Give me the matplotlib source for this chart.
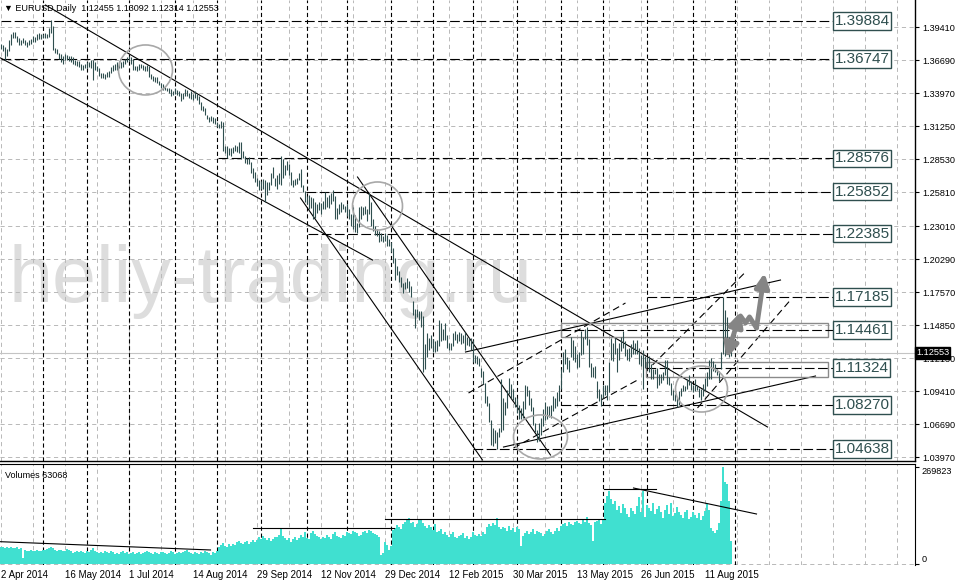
import matplotlib
matplotlib.use("Agg")
import matplotlib.pyplot as plt
from matplotlib.patches import Ellipse, Rectangle
from matplotlib.transforms import blended_transform_factory
import pandas as pd

plt.rcParams["font.family"] = ["Liberation Sans", "DejaVu Sans"]
plt.rcParams["lines.scale_dashes"] = False

# Daily bars EURUSD, one row = one week
highs = [
    1.3800, 1.3790, 1.3775, 1.3760, 1.3830,
    1.3880, 1.3900, 1.3900, 1.3870, 1.3850,
    1.3830, 1.3850, 1.3830, 1.3820, 1.3830,
    1.3840, 1.3870, 1.3860, 1.3880, 1.3890,
    1.3880, 1.3880, 1.3890, 1.3880, 1.3930,
    1.3995, 1.3950, 1.3770, 1.3760, 1.3730,
    1.3720, 1.3700, 1.3720, 1.3710, 1.3700,
    1.3700, 1.3690, 1.3670, 1.3660, 1.3660,
    1.3640, 1.3630, 1.3640, 1.3650, 1.3650,
    1.3670, 1.3670, 1.3650, 1.3620, 1.3600,
    1.3560, 1.3560, 1.3550, 1.3570, 1.3580,
    1.3610, 1.3630, 1.3640, 1.3650, 1.3660,
    1.3650, 1.3660, 1.3680, 1.3690, 1.3700,
    1.3690, 1.3680, 1.3620, 1.3620, 1.3640,
    1.3640, 1.3630, 1.3620, 1.3630, 1.3620,
    1.3550, 1.3540, 1.3530, 1.3530, 1.3500,
    1.3480, 1.3470, 1.3450, 1.3440, 1.3440,
    1.3430, 1.3410, 1.3440, 1.3420, 1.3410,
    1.3400, 1.3400, 1.3430, 1.3420, 1.3400,
    1.3410, 1.3390, 1.3410, 1.3390, 1.3370,
    1.3320, 1.3290, 1.3270, 1.3220, 1.3200,
    1.3210, 1.3200, 1.3190, 1.3160, 1.3140,
    1.3170, 1.3160, 1.2960, 1.2960, 1.2940,
    1.2940, 1.2950, 1.2970, 1.2960, 1.2990,
    1.2990, 1.2920, 1.2880, 1.2860, 1.2870,
    1.2830, 1.2780, 1.2750, 1.2700, 1.2680,
    1.2670, 1.2690, 1.2680, 1.2660, 1.2660,
    1.2740, 1.2790, 1.2700, 1.2720, 1.2740,
    1.2880, 1.2850, 1.2800, 1.2840, 1.2810,
    1.2750, 1.2680, 1.2690, 1.2700, 1.2740,
    1.2770, 1.2640, 1.2590, 1.2550, 1.2560,
    1.2540, 1.2530, 1.2500, 1.2480, 1.2500,
    1.2490, 1.2510, 1.2580, 1.2540, 1.2560,
    1.2570, 1.2600, 1.2550, 1.2450, 1.2480,
    1.2500, 1.2480, 1.2470, 1.2480, 1.2440,
    1.2400, 1.2460, 1.2390, 1.2330, 1.2460,
    1.2470, 1.2460, 1.2470, 1.2440, 1.2570,
    1.2500, 1.2360, 1.2300, 1.2280, 1.2260,
    1.2240, 1.2220, 1.2240, 1.2230, 1.2190,
    1.2170, 1.2120, 1.2040, 1.1970, 1.1930,
    1.1880, 1.1830, 1.1840, 1.1870, 1.1850,
    1.1810, 1.1680, 1.1620, 1.1620, 1.1600,
    1.1600, 1.1560, 1.1330, 1.1420, 1.1380,
    1.1400, 1.1370, 1.1350, 1.1360, 1.1530,
    1.1500, 1.1450, 1.1500, 1.1400, 1.1340,
    1.1340, 1.1420, 1.1440, 1.1410, 1.1430,
    1.1420, 1.1400, 1.1430, 1.1390, 1.1380,
    1.1380, 1.1360, 1.1240, 1.1230, 1.1210,
    1.1130, 1.1110, 1.1010, 1.0900, 1.0840,
    1.0700, 1.0640, 1.0620, 1.0600, 1.0640,
    1.1040, 1.0880, 1.0850, 1.0950, 1.1050,
    1.1000, 1.0960, 1.0890, 1.0880, 1.0830,
    1.0800, 1.0860, 1.0990, 1.0980, 1.0950,
    1.0880, 1.0810, 1.0680, 1.0620, 1.0680,
    1.0720, 1.0790, 1.0850, 1.0820, 1.0820,
    1.0830, 1.0900, 1.0880, 1.0930, 1.0990,
    1.1120, 1.1260, 1.1290, 1.1220, 1.1200,
    1.1390, 1.1360, 1.1310, 1.1250, 1.1260,
    1.1440, 1.1390, 1.1450, 1.1467, 1.1370,
    1.1170, 1.1140, 1.1150, 1.1020, 1.0960,
    1.0920, 1.0990, 1.0990, 1.0990, 1.1180,
    1.1380, 1.1340, 1.1380, 1.1300, 1.1340,
    1.1390, 1.1440, 1.1350, 1.1290, 1.1300,
    1.1330, 1.1360, 1.1340, 1.1360, 1.1300,
    1.1240, 1.1280, 1.1230, 1.1220, 1.1230,
    1.1160, 1.1120, 1.1120, 1.1130, 1.1080,
    1.1080, 1.1100, 1.1200, 1.1200, 1.1060,
    1.1010, 1.0950, 1.0920, 1.0890, 1.0940,
    1.0970, 1.0990, 1.0980, 1.1040, 1.1070,
    1.1020, 1.0990, 1.1040, 1.0990, 1.0970,
    1.0960, 1.1000, 1.1050, 1.1100, 1.1200,
    1.1210, 1.1190, 1.1160, 1.1120, 1.1110,
    1.1260, 1.1714, 1.1610, 1.1550, 1.1390, 1.1309,
]
lows = [
    1.3760, 1.3740, 1.3670, 1.3700, 1.3740,
    1.3790, 1.3850, 1.3850, 1.3815, 1.3790,
    1.3790, 1.3810, 1.3790, 1.3780, 1.3790,
    1.3800, 1.3820, 1.3820, 1.3830, 1.3840,
    1.3840, 1.3850, 1.3850, 1.3850, 1.3860,
    1.3890, 1.3750, 1.3730, 1.3720, 1.3680,
    1.3650, 1.3640, 1.3670, 1.3670, 1.3660,
    1.3650, 1.3640, 1.3630, 1.3620, 1.3610,
    1.3590, 1.3590, 1.3600, 1.3600, 1.3610,
    1.3600, 1.3503, 1.3590, 1.3580, 1.3540,
    1.3520, 1.3520, 1.3510, 1.3530, 1.3530,
    1.3560, 1.3580, 1.3590, 1.3590, 1.3600,
    1.3600, 1.3610, 1.3640, 1.3650, 1.3660,
    1.3640, 1.3590, 1.3590, 1.3580, 1.3590,
    1.3600, 1.3590, 1.3580, 1.3580, 1.3530,
    1.3510, 1.3500, 1.3490, 1.3480, 1.3460,
    1.3440, 1.3420, 1.3420, 1.3410, 1.3400,
    1.3370, 1.3380, 1.3390, 1.3380, 1.3370,
    1.3330, 1.3350, 1.3370, 1.3370, 1.3360,
    1.3350, 1.3340, 1.3360, 1.3340, 1.3310,
    1.3260, 1.3250, 1.3220, 1.3180, 1.3160,
    1.3170, 1.3150, 1.3140, 1.3120, 1.3110,
    1.3110, 1.2920, 1.2900, 1.2860, 1.2890,
    1.2880, 1.2900, 1.2920, 1.2910, 1.2900,
    1.2850, 1.2860, 1.2820, 1.2810, 1.2810,
    1.2740, 1.2700, 1.2660, 1.2630, 1.2600,
    1.2610, 1.2610, 1.2500, 1.2560, 1.2600,
    1.2640, 1.2700, 1.2630, 1.2610, 1.2650,
    1.2640, 1.2700, 1.2720, 1.2760, 1.2720,
    1.2640, 1.2620, 1.2640, 1.2650, 1.2680,
    1.2620, 1.2580, 1.2500, 1.2480, 1.2440,
    1.2450, 1.2360, 1.2370, 1.2410, 1.2430,
    1.2400, 1.2440, 1.2440, 1.2460, 1.2450,
    1.2480, 1.2510, 1.2360, 1.2360, 1.2400,
    1.2420, 1.2440, 1.2420, 1.2380, 1.2360,
    1.2300, 1.2280, 1.2250, 1.2240, 1.2290,
    1.2360, 1.2390, 1.2400, 1.2340, 1.2400,
    1.2300, 1.2260, 1.2230, 1.2220, 1.2170,
    1.2180, 1.2170, 1.2180, 1.2140, 1.2140,
    1.2090, 1.2000, 1.1860, 1.1900, 1.1840,
    1.1800, 1.1750, 1.1780, 1.1790, 1.1760,
    1.1720, 1.1570, 1.1460, 1.1550, 1.1530,
    1.1470, 1.1100, 1.1120, 1.1220, 1.1280,
    1.1300, 1.1260, 1.1260, 1.1270, 1.1310,
    1.1350, 1.1360, 1.1360, 1.1300, 1.1280,
    1.1280, 1.1310, 1.1360, 1.1340, 1.1350,
    1.1330, 1.1340, 1.1280, 1.1320, 1.1310,
    1.1280, 1.1180, 1.1170, 1.1160, 1.1150,
    1.1060, 1.1000, 1.0840, 1.0820, 1.0690,
    1.0500, 1.0490, 1.0510, 1.0460, 1.0560,
    1.0600, 1.0620, 1.0740, 1.0800, 1.0920,
    1.0880, 1.0870, 1.0810, 1.0760, 1.0710,
    1.0710, 1.0720, 1.0790, 1.0900, 1.0830,
    1.0780, 1.0660, 1.0600, 1.0520, 1.0530,
    1.0580, 1.0650, 1.0700, 1.0710, 1.0730,
    1.0720, 1.0780, 1.0800, 1.0820, 1.0860,
    1.0960, 1.1100, 1.1160, 1.1120, 1.1100,
    1.1220, 1.1200, 1.1180, 1.1130, 1.1140,
    1.1240, 1.1250, 1.1370, 1.1320, 1.1140,
    1.1060, 1.1060, 1.1050, 1.0880, 1.0860,
    1.0819, 1.0880, 1.0910, 1.0870, 1.0930,
    1.1200, 1.1190, 1.1250, 1.1100, 1.1200,
    1.1270, 1.1300, 1.1230, 1.1200, 1.1190,
    1.1220, 1.1250, 1.1250, 1.1250, 1.1160,
    1.1150, 1.0960, 1.1130, 1.1140, 1.1100,
    1.1040, 1.1040, 1.1080, 1.0970, 1.0990,
    1.1010, 1.1030, 1.1070, 1.1000, 1.0990,
    1.0910, 1.0870, 1.0860, 1.0810, 1.0830,
    1.0900, 1.0940, 1.0940, 1.0960, 1.0990,
    1.0950, 1.0930, 1.0940, 1.0950, 1.0890,
    1.0870, 1.0900, 1.0950, 1.0980, 1.1040,
    1.1040, 1.1110, 1.1100, 1.1070, 1.1020,
    1.1120, 1.1250, 1.1230, 1.1310, 1.1222, 1.1231,
]
volumes = [
    47000, 46000, 45000, 47000, 44000,
    46000, 45000, 44000, 46000, 43000,
    44000, 17000, 38000, 37000, 36000,
    38000, 37000, 36000, 39000, 37000,
    36000, 40000, 38000, 42000, 44000,
    47000, 45000, 38000, 36000, 40000,
    38000, 35000, 37000, 41000, 39000,
    36000, 30000, 34000, 37000, 33000,
    35000, 33000, 31000, 36000, 34000,
    38000, 44000, 36000, 33000, 31000,
    32000, 30000, 35000, 33000, 31000,
    36000, 34000, 29000, 31000, 28000,
    33000, 35000, 30000, 32000, 27000,
    30000, 34000, 29000, 31000, 33000,
    28000, 30000, 32000, 36000, 34000,
    31000, 29000, 33000, 30000, 27000,
    32000, 34000, 30000, 28000, 31000,
    35000, 33000, 29000, 31000, 34000,
    30000, 32000, 36000, 38000, 33000,
    31000, 29000, 34000, 30000, 28000,
    33000, 31000, 35000, 32000, 30000,
    26000, 33000, 30000, 37000, 48000,
    52000, 58000, 50000, 46000, 55000,
    49000, 57000, 54000, 60000, 63000,
    58000, 55000, 61000, 64000, 57000,
    62000, 66000, 60000, 68000, 75000,
    70000, 78000, 73000, 66000, 72000,
    64000, 70000, 76000, 74000, 80000,
    96000, 79000, 71000, 67000, 73000,
    62000, 69000, 74000, 68000, 72000,
    80000, 76000, 88000, 71000, 70000,
    85000, 92000, 83000, 78000, 74000,
    69000, 76000, 72000, 81000, 75000,
    70000, 84000, 90000, 79000, 75000,
    73000, 80000, 77000, 88000, 86000,
    84000, 92000, 90000, 87000, 79000,
    82000, 88000, 91000, 86000, 94000,
    91000, 86000, 83000, 80000, 76000,
    25000, 30000, 60000, 52000, 40000,
    50000, 95000, 100000, 108000, 102000,
    97000, 110000, 116000, 121000, 127000,
    113000, 118000, 104000, 110000, 125000,
    122000, 115000, 106000, 99000, 108000,
    102000, 95000, 110000, 88000, 92000,
    97000, 83000, 88000, 80000, 76000,
    84000, 90000, 75000, 71000, 79000,
    82000, 86000, 73000, 78000, 70000,
    74000, 88000, 81000, 77000, 83000,
    79000, 90000, 84000, 103000, 110000,
    105000, 113000, 108000, 127000, 102000,
    98000, 104000, 101000, 92000, 107000,
    95000, 99000, 90000, 102000, 96000,
    50000, 78000, 87000, 93000, 83000,
    88000, 96000, 84000, 92000, 90000,
    86000, 79000, 84000, 91000, 96000,
    88000, 83000, 92000, 99000, 93000,
    105000, 110000, 115000, 106000, 118000,
    112000, 108000, 116000, 120000, 113000,
    110000, 122000, 118000, 132000, 115000,
    108000, 63000, 117000, 120000, 124000,
    112000, 126000, 170000, 190000, 204000,
    182000, 168000, 176000, 150000, 160000,
    143000, 167000, 155000, 140000, 132000,
    156000, 148000, 139000, 161000, 187000,
    145000, 204000, 130000, 165000, 156000,
    148000, 170000, 139000, 152000, 161000,
    145000, 128000, 150000, 163000, 140000,
    171000, 133000, 141000, 158000, 146000,
    137000, 129000, 145000, 149000, 124000,
    130000, 144000, 136000, 127000, 141000,
    121000, 133000, 147000, 168000, 149000,
    99000, 92000, 86000, 95000, 113000,
    174000, 269823, 229000, 223000, 174000, 63068,
]
last_open, last_high, last_low, last_close = 1.12455, 1.13092, 1.12314, 1.12553

price_ticks = [1.39410, 1.36690, 1.33970, 1.31250, 1.28530, 1.25810, 1.23010,
               1.20290, 1.17570, 1.14850, 1.12130, 1.09410, 1.06690, 1.03970]
date_labels = ["2 Apr 2014", "16 May 2014", "1 Jul 2014", "14 Aug 2014",
               "29 Sep 2014", "12 Nov 2014", "29 Dec 2014", "12 Feb 2015",
               "30 Mar 2015", "13 May 2015", "26 Jun 2015", "11 Aug 2015"]
holidays = ["2014-12-25", "2015-01-01"]

# horizontal levels with the bar where each starts
levels = [1.39884, 1.36747, 1.28576, 1.25852, 1.22385,
          1.17185, 1.14461, 1.11324, 1.08270, 1.04638]
level_start = [0, 0, 108.5, 152.5, 153.5, 323, 280, 322.5, 280, 236]
level_end = 416.5

# trend lines (bar, price) -> (bar, price)
solid_lines = [
    ((22.5, 1.4122), (383.5, 1.0645)),
    ((0, 1.3686), (186, 1.2021)),
    ((150, 1.2532), (241, 1.0373)),
    ((178.5, 1.2705), (275, 1.0414)),
    ((251.5, 1.0480), (407.5, 1.1065)),
    ((232.5, 1.1263), (390, 1.1856)),
]
dashed_lines = [
    ((234, 1.0925), (312.5, 1.1667)),
    ((256.5, 1.0472), (318.5, 1.1032)),
    ((326, 1.1156), (372.5, 1.1922)),
    ((348.5, 1.0802), (395, 1.1692)),
]
# zones (bar0, bar1, low, high)
zones = [(280, 413.5, 1.1387, 1.1502), (322.5, 413.5, 1.1057, 1.1181)]
# circles (bar, price, width in bars, height in price)
circles = [(72.5, 1.3587, 27, 0.0412), (188.5, 1.2466, 25, 0.0396),
           (270, 1.0563, 27, 0.0363), (350.5, 1.0958, 26, 0.0379)]
# forecast path
path_bars = [370, 372.5, 374.5, 378]
path_prices = [1.1560, 1.1502, 1.1552, 1.1461]

# volume panel lines
vol_lines = [((0, 62000), (105, 39000)), ((126, 100150), (196.5, 100150)),
             ((192, 125200), (302, 125200)), ((301.5, 208600), (327.5, 208600)),
             ((316.5, 211400), (378, 139100))]

bars = list(range(len(highs)))

# trading calendar for month separators
dates = pd.bdate_range("2014-04-02", periods=400)
dates = dates[~dates.isin(pd.to_datetime(holidays))]
month_starts = [i for i in range(1, 372) if dates[i].month != dates[i - 1].month]

fig = plt.figure(figsize=(9.55, 5.85), dpi=100)
ax = fig.add_axes([0, 124 / 585, 915 / 955, 461 / 585])
axv = fig.add_axes([0, 20 / 585, 915 / 955, 101.5 / 585])
for a in (ax, axv):
    a.set_xlim(-0.25, 457.25)
    a.set_xticks([])
    for b in range(0, 458, 16):
        a.axvline(b, color="#b8b8b8", lw=0.7, ls=(0, (3, 2.5)), zorder=1)
    for b in month_starts:
        a.axvline(b + 0.25, color="black", lw=0.8, ls=(0, (3, 2)), zorder=2)
    a.spines["left"].set_visible(False)

# main price panel
ax.set_ylim(1.03648, 1.41635)
for p in price_ticks:
    ax.axhline(p, color="#b8b8b8", lw=0.7, ls=(0, (3, 2.5)), zorder=1)
ax.text(0.009, 0.345, "heliy-trading.ru", transform=ax.transAxes, fontsize=57,
        color="#dddddd", va="baseline", zorder=0.5)
ax.axhline(last_close, color="#c4c4c4", lw=0.8, zorder=1.5)
ax.vlines(bars, lows, highs, color="#2f4f4f", lw=0.8, zorder=4)

for (x0, y0), (x1, y1) in solid_lines:
    ax.plot([x0, x1], [y0, y1], color="black", lw=0.8, zorder=3)
for (x0, y0), (x1, y1) in dashed_lines:
    ax.plot([x0, x1], [y0, y1], color="black", lw=0.8, ls=(0, (5, 3)), zorder=3)
for b0, b1, lo, hi in zones:
    ax.add_patch(Rectangle((b0, lo), b1 - b0, hi - lo, fill=False,
                           ec="#8a8a8a", lw=1.0, zorder=3))
for cx, cy, w, h in circles:
    ax.add_patch(Ellipse((cx, cy), w, h, fill=False, ec="#a8a8a8", lw=1.2, zorder=5))

for p, s in zip(levels, level_start):
    ax.plot([s, level_end], [p, p], color="black", lw=0.8, ls=(0, (7, 2.5)), zorder=3)
    ax.text(level_end + 0.5, p, f"{p:.5f}", fontsize=11, color="#2f4f4f",
            ha="left", va="center", zorder=6,
            bbox=dict(boxstyle="square,pad=0.12", fc="white", ec="#2f4f4f", lw=1))

# forecast arrows
arrow_col = "#858585"
ax.annotate("", xy=(370, 1.1593), xytext=(363, 1.1214),
            arrowprops=dict(arrowstyle="<|-|>,head_length=0.7,head_width=0.35",
                            color=arrow_col, lw=3.5, shrinkA=0, shrinkB=0,
                            mutation_scale=12), zorder=6)
ax.plot(path_bars, path_prices, color=arrow_col, lw=3.5, solid_capstyle="round", zorder=6)
ax.annotate("", xy=(382, 1.1914), xytext=(378, 1.1461),
            arrowprops=dict(arrowstyle="-|>,head_length=0.7,head_width=0.35",
                            color=arrow_col, lw=3.5, shrinkA=0, shrinkB=0,
                            mutation_scale=12), zorder=6)

ax.text(0.004, 0.992, f"\u25bc EURUSD,Daily  {last_open:.5f} {last_high:.5f} "
        f"{last_low:.5f} {last_close:.5f}", transform=ax.transAxes,
        fontsize=6.5, va="top", ha="left", zorder=7)

ax.yaxis.tick_right()
ax.set_yticks(price_ticks)
ax.set_yticklabels([f"{p:.5f}" for p in price_ticks])
ax.tick_params(axis="y", labelsize=6.6, length=3, width=0.8, pad=2)
ax.spines["top"].set_visible(False)
for s in ("right", "bottom"):
    ax.spines[s].set_linewidth(1)
trans = blended_transform_factory(ax.transAxes, ax.transData)
ax.text(1.001, last_close, f"{last_close:.5f}", transform=trans, fontsize=6.6,
        color="white", ha="left", va="center", clip_on=False, zorder=8,
        bbox=dict(boxstyle="square,pad=0.15", fc="black", ec="black"))

# volume panel
vmax = max(volumes)
axv.set_ylim(-2800, 279560)
axv.bar(bars, volumes, width=1.0, color="#40e0d0", zorder=3)
axv.axhline(0, color="#b8b8b8", lw=0.7, ls=(0, (3, 2.5)), zorder=1)
for (x0, y0), (x1, y1) in vol_lines:
    axv.plot([x0, x1], [y0, y1], color="black", lw=0.8, zorder=4)
axv.text(0.005, 0.93, f"Volumes {volumes[-1]}", transform=axv.transAxes,
         fontsize=6.5, va="top", ha="left", zorder=5)
axv.yaxis.tick_right()
axv.set_yticks([0, vmax])
axv.set_yticklabels(["0", str(vmax)])
axv.tick_params(axis="y", labelsize=6.6, length=3, width=0.8, pad=2)
labs = axv.get_yticklabels()
labs[0].set_va("bottom")
labs[1].set_va("top")
axv.spines["bottom"].set_visible(False)

dtrans = blended_transform_factory(axv.transData, axv.transAxes)
for b, lab in zip(range(0, 384, 32), date_labels):
    axv.text(b, -0.05, lab, transform=dtrans, fontsize=7, ha="left", va="top",
             clip_on=False)

fig.savefig("out.png", dpi=100)
